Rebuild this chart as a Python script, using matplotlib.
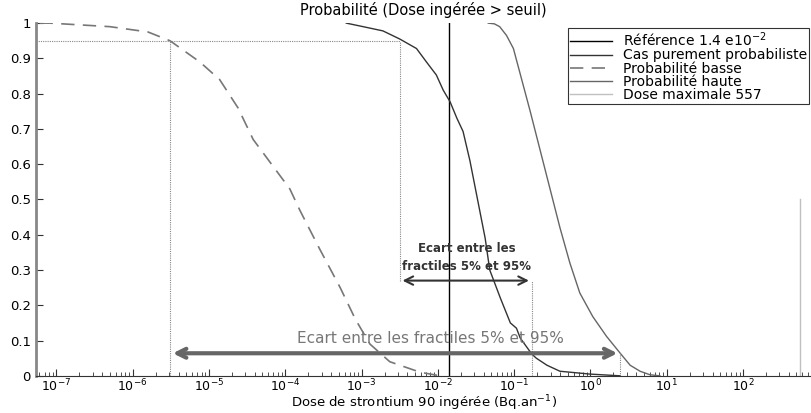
import numpy as np
import matplotlib
matplotlib.use("Agg")
import matplotlib.pyplot as plt
from matplotlib.ticker import LogLocator, FixedLocator

plt.rcParams["font.family"] = ["DejaVu Sans"]
plt.rcParams["mathtext.fontset"] = "dejavusans"

# Données (exposants log10 de la dose, probabilité)
basse_log = [-7.22, -7.08, -6.30, -5.80, -5.51, -5.12, -4.86, -4.62, -4.42,
             -3.94, -3.81, -3.55, -3.28, -3.08, -2.89, -2.63, -2.23, -1.97]
basse_p = [1.0, 1.0, 0.99, 0.975, 0.95, 0.89, 0.84, 0.76, 0.67,
           0.53, 0.47, 0.36, 0.25, 0.16, 0.09, 0.04, 0.01, 0.0]

proba_log = [-3.20, -2.98, -2.72, -2.50, -2.28, -2.15, -2.02, -1.93, -1.84,
             -1.75, -1.67, -1.58, -1.48, -1.38, -1.32, -1.18, -1.05, -0.97,
             -0.92, -0.77, -0.71, -0.57, -0.40, -0.01, 0.39]
proba_p = [1.0, 0.99, 0.978, 0.955, 0.928, 0.89, 0.853, 0.81, 0.777,
           0.73, 0.693, 0.61, 0.50, 0.39, 0.30, 0.22, 0.15, 0.135,
           0.107, 0.062, 0.05, 0.03, 0.013, 0.005, 0.0]

haute_log = [-1.34, -1.26, -1.19, -1.10, -1.01, -0.79, -0.66, -0.53, -0.40,
             -0.27, -0.14, 0.03, 0.21, 0.39, 0.52, 0.65, 0.78, 0.91]
haute_p = [1.0, 0.998, 0.99, 0.965, 0.928, 0.75, 0.64, 0.53, 0.42,
           0.32, 0.235, 0.168, 0.112, 0.064, 0.03, 0.013, 0.003, 0.0]

dose_reference = 1.4e-2
dose_max = 557

# fractiles 5% / 95%
f95_basse = 10 ** -5.51
f95_proba = 10 ** -2.50
f5_proba = 10 ** -0.77
f5_haute = 10 ** 0.39

fig = plt.figure(figsize=(8.11, 4.13), dpi=100)
ax = fig.add_axes([0.045, 0.09, 0.955, 0.854])

ax.axvline(dose_reference, color="black", lw=1.0, label="Référence 1.4 e10$^{-2}$")
ax.plot(10 ** np.array(proba_log), proba_p, color="#333333", lw=1.0,
        label="Cas purement probabiliste")
ax.plot(10 ** np.array(basse_log), basse_p, color="#777777", lw=1.2,
        dashes=(8, 5), label="Probabilité basse")
ax.plot(10 ** np.array(haute_log), haute_p, color="#666666", lw=1.0,
        label="Probabilité haute")
ax.plot([dose_max, dose_max], [0, 0.5], color="#c0c0c0", lw=1.0,
        label="Dose maximale 557")

# lignes pointillées des fractiles
dot = dict(color="#888888", lw=0.8, ls=(0, (1, 1)))
ax.plot([10 ** -7.26, f95_proba], [0.95, 0.95], **dot)
ax.plot([f95_basse, f95_basse], [0, 0.95], **dot)
ax.plot([f95_proba, f95_proba], [0.27, 0.95], **dot)
ax.plot([f5_proba, f5_proba], [0, 0.27], **dot)
ax.plot([f5_haute, f5_haute], [0, 0.064], **dot)

# flèches
ax.annotate("", xy=(f95_proba, 0.27), xytext=(f5_proba, 0.27),
            arrowprops=dict(arrowstyle="<->", color="#333333", lw=1.5,
                            mutation_scale=15))
ax.text(10 ** -1.62, 0.335, "Ecart entre les\nfractiles 5% et 95%",
        ha="center", va="center", fontsize=8.5, fontweight="bold",
        color="#333333", linespacing=1.45)
ax.annotate("", xy=(f95_basse, 0.064), xytext=(f5_haute, 0.064),
            arrowprops=dict(arrowstyle="<->", color="#666666", lw=3,
                            mutation_scale=16))
ax.text(10 ** -2.1, 0.107, "Ecart entre les fractiles 5% et 95%",
        ha="center", va="center", fontsize=11, color="#777777")

ax.set_xscale("log")
ax.set_xlim(10 ** -7.26, 10 ** 2.89)
ax.set_ylim(0, 1)
ax.xaxis.set_major_locator(FixedLocator([10.0 ** k for k in range(-7, 3)]))
ax.xaxis.set_minor_locator(LogLocator(base=10, subs=np.arange(2, 10), numticks=30))
ax.set_yticks(np.arange(0, 1.01, 0.1))
ax.set_yticklabels(["0"] + [f"{v:.1f}" for v in np.arange(0.1, 0.95, 0.1)] + ["1"])
ax.tick_params(which="both", direction="in", labelsize=9.5, color="#333333")
ax.tick_params(axis="x", labelsize=9)
ax.tick_params(which="major", length=5)
ax.tick_params(which="minor", length=3)
ax.tick_params(axis="x", pad=1)
ax.tick_params(axis="y", pad=4)

for s in ["top", "right"]:
    ax.spines[s].set_visible(False)
ax.spines["left"].set_color("#888888")
ax.spines["left"].set_linewidth(2)
ax.spines["bottom"].set_color("#333333")

ax.set_title("Probabilité (Dose ingérée > seuil)", fontsize=10.5, pad=6)
ax.set_xlabel("Dose de strontium 90 ingérée (Bq.an$^{-1}$)", fontsize=9.5, labelpad=0)

leg = ax.legend(loc="upper right", bbox_to_anchor=(0.998, 0.985), fontsize=10,
                frameon=True, fancybox=False, edgecolor="black",
                handlelength=3.0, borderpad=0.15, labelspacing=-0.05,
                handletextpad=0.8, borderaxespad=0)
leg.get_frame().set_linewidth(0.8)

fig.savefig("out.png", dpi=100)
